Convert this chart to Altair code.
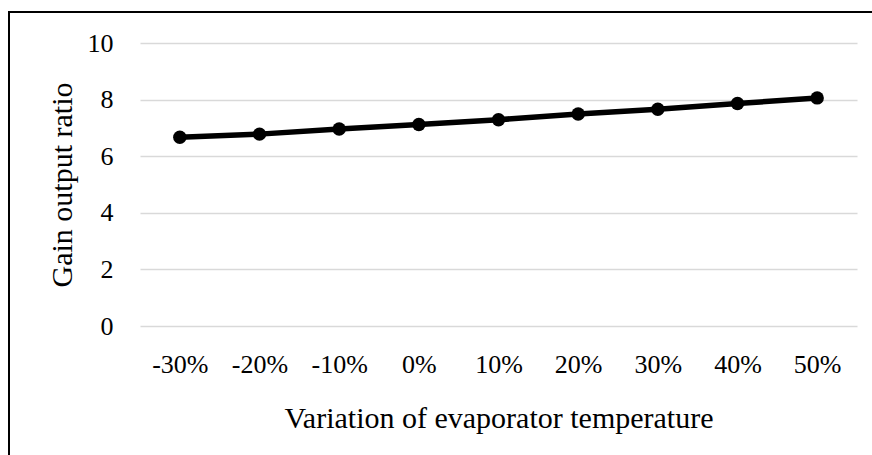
import altair as alt
import pandas as pd

categories = ["-30%", "-20%", "-10%", "0%", "10%", "20%", "30%", "40%", "50%"]
gor_values = [6.67, 6.78, 6.96, 7.12, 7.29, 7.49, 7.66, 7.86, 8.06]
y_ticks = [0, 2, 4, 6, 8, 10]

df = pd.DataFrame({"variation": categories, "gor": gor_values})

FONT = "Liberation Serif"
W, H = 717, 283

x_enc = alt.X(
    "variation:O",
    sort=categories,
    scale=alt.Scale(type="point", padding=0.5),
    axis=alt.Axis(
        title="Variation of evaporator temperature",
        labelAngle=0,
        labelFont=FONT,
        labelFontSize=26,
        labelColor="#000000",
        labelPadding=25,
        ticks=False,
        domain=False,
        grid=False,
        titleFont=FONT,
        titleFontSize=30,
        titleFontWeight="normal",
        titleColor="#000000",
        titleBaseline="alphabetic",
        titleX=W / 2,
        titleY=101,
    ),
)
y_enc = alt.Y(
    "gor:Q",
    scale=alt.Scale(domain=[0, 10], nice=False, zero=True),
    axis=alt.Axis(
        title="Gain output ratio",
        values=y_ticks,
        labelFont=FONT,
        labelFontSize=26,
        labelColor="#000000",
        labelPadding=27,
        ticks=False,
        domain=False,
        grid=True,
        gridColor="#d9d9d9",
        gridWidth=1.5,
        titleFont=FONT,
        titleFontSize=30,
        titleFontWeight="normal",
        titleColor="#000000",
        titleAngle=270,
        titleBaseline="middle",
        titleAlign="center",
        titleX=-78,
        titleY=H / 2,
    ),
)

line = alt.Chart(df).mark_line(color="#000000", strokeWidth=5.5).encode(x=x_enc, y=y_enc)
points = alt.Chart(df).mark_point(
    filled=True, color="#000000", size=180, opacity=1
).encode(x=alt.X("variation:O", sort=categories), y="gor:Q")

border = alt.Chart(pd.DataFrame({"k": [0]})).mark_rect(
    fill="#ffffff", fillOpacity=0, stroke="#000000", strokeWidth=2
).encode(
    x=alt.value(-131), x2=alt.value(745), y=alt.value(-31), y2=alt.value(440)
)

chart = alt.layer(line, points, border).properties(
    width=W,
    height=H,
    autosize=alt.AutoSizeParams(type="none"),
    padding={"left": 140, "top": 43, "right": 15, "bottom": 129},
    background="#ffffff",
).configure_view(stroke=None)

chart.save("out.html", embed_options={"renderer": "svg", "actions": False})
